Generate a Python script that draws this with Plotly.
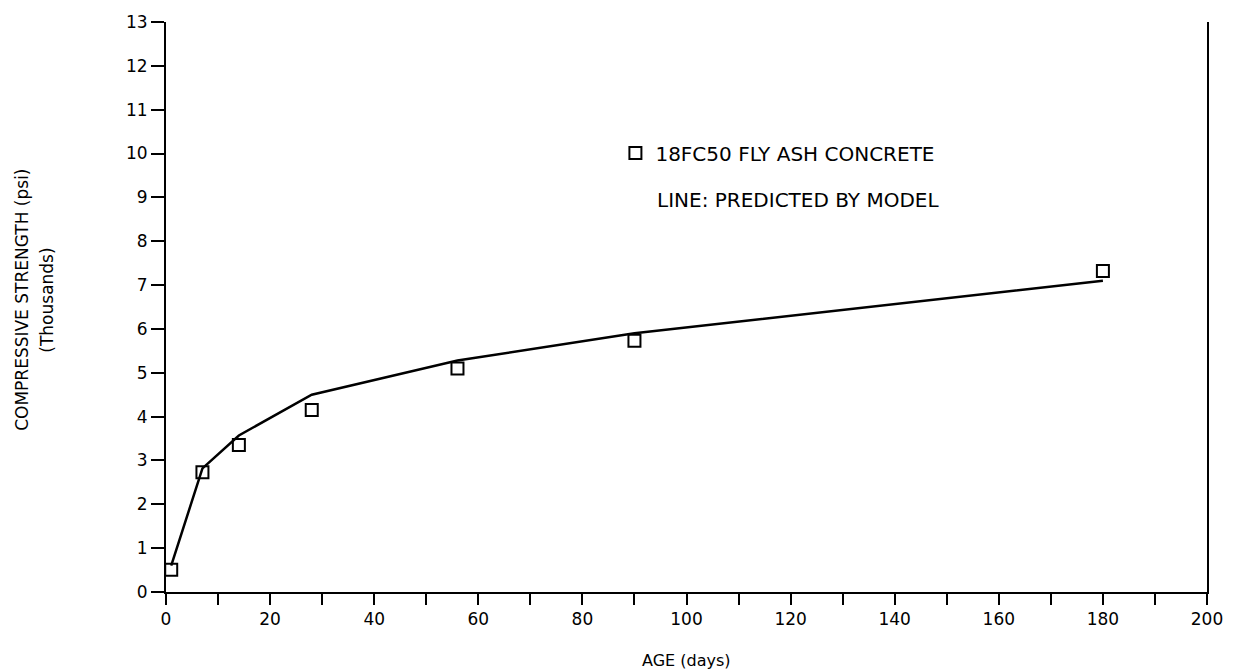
import plotly.graph_objects as go

# Measured data (age in days, strength in thousands psi)
age_obs = [1, 7, 14, 28, 56, 90, 180]
strength_obs = [0.51, 2.73, 3.35, 4.15, 5.10, 5.73, 7.32]

age_model = [1, 7, 14, 28, 56, 90, 180]
strength_model = [0.60, 2.82, 3.57, 4.50, 5.28, 5.90, 7.10]

x_ticks = list(range(0, 201, 20))
y_ticks = list(range(0, 14, 1))

FONT = "DejaVu Sans"

# plot area targeted at x 166..1213, y 22..592 of the window
L, R, T, B = 166, 1213, 22, 592
W, H = 1235, 672
PW, PH = R - L, B - T

def px(xw):
    return (xw - L) / PW

def py(yw):
    return (B - yw) / PH

fig = go.Figure()
fig.add_trace(go.Scatter(
    x=age_model, y=strength_model, mode="lines",
    line=dict(color="black", width=2.5), showlegend=False, hoverinfo="skip"))
fig.add_trace(go.Scatter(
    x=age_obs, y=strength_obs, mode="markers",
    marker=dict(symbol="square-open", size=12, color="black", line=dict(width=2, color="black")),
    name="18FC50 FLY ASH CONCRETE", showlegend=True))

fig.update_layout(
    width=W, height=H,
    margin=dict(l=L, r=W - R, t=T, b=H - B),
    paper_bgcolor="white", plot_bgcolor="white",
    font=dict(family=FONT, size=16, color="black"),
    showlegend=True,
    legend=dict(x=px(618), y=py(153), xanchor="left", yanchor="middle",
                bgcolor="rgba(0,0,0,0)", font=dict(size=20, family=FONT), borderwidth=0),
    xaxis=dict(range=[0, 200], tickvals=x_ticks, ticks="outside", ticklen=11, tickwidth=2,
               tickcolor="black", showline=True, linecolor="black", linewidth=2,
               showgrid=False, zeroline=False, tickfont=dict(size=17),
               minor=dict(dtick=10, ticks="outside", ticklen=11, tickwidth=2, tickcolor="black")),
    yaxis=dict(range=[0, 13], tickvals=y_ticks, ticks="outside", ticklen=13, tickwidth=2,
               tickcolor="black", showline=True, linecolor="black", linewidth=2, mirror=True,
               showgrid=False, zeroline=False, tickfont=dict(size=17)),
)

fig.add_annotation(text="LINE: PREDICTED BY MODEL", xref="paper", yref="paper",
                   x=px(658), y=py(200), xanchor="left", yanchor="middle",
                   showarrow=False, font=dict(size=20, family=FONT))
fig.add_annotation(text="AGE (days)", xref="paper", yref="paper", x=px(690), y=py(660),
                   xanchor="center", yanchor="middle", showarrow=False,
                   font=dict(size=16, family=FONT))
fig.add_annotation(text="COMPRESSIVE STRENGTH (psi)", xref="paper", yref="paper", x=px(21), y=py(300),
                   textangle=-90, xanchor="center", yanchor="middle",
                   showarrow=False, font=dict(size=17, family=FONT))
fig.add_annotation(text="(Thousands)", xref="paper", yref="paper", x=px(46), y=py(300),
                   textangle=-90, xanchor="center", yanchor="middle",
                   showarrow=False, font=dict(size=17, family=FONT))

fig.write_html("out.html", config={"displayModeBar": False},
               post_script="document.body.style.margin='0';document.body.style.overflow='hidden';")
